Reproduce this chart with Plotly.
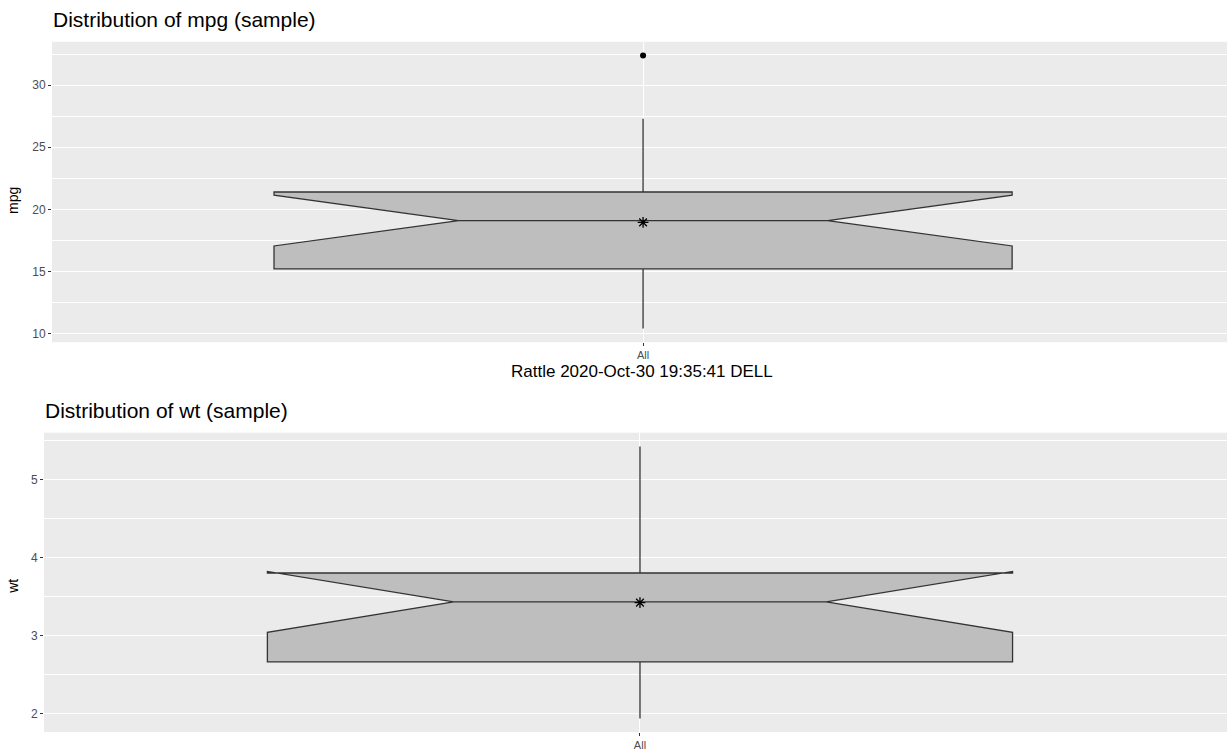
import plotly.graph_objects as go

# ---- data ----
category = ["All"]

mpg_q1 = [15.2]
mpg_median = [19.1]
mpg_q3 = [21.4]
mpg_lower = [10.4]
mpg_upper = [27.3]
mpg_notch = [2.05]
mpg_mean = [18.95]
mpg_outliers = [32.4]

wt_q1 = [2.66]
wt_median = [3.43]
wt_q3 = [3.80]
wt_lower = [1.935]
wt_upper = [5.424]
wt_notch = [0.39]
wt_mean = [3.42]

mpg_ticks = [10, 15, 20, 25, 30]
wt_ticks = [2, 3, 4, 5]

W, H = 1227, 751
BOX_FILL = "#BEBEBE"
EDGE = "#333333"
PANEL = "#EBEBEB"
FONT = "Liberation Sans, Arial, sans-serif"

fig = go.Figure()

star = dict(symbol="asterisk-open", size=9, color="black", line=dict(color="black", width=1.3))

# top panel: mpg
fig.add_trace(go.Box(
    x=category, q1=mpg_q1, median=mpg_median, q3=mpg_q3,
    lowerfence=mpg_lower, upperfence=mpg_upper, notchspan=mpg_notch,
    notched=True, notchwidth=0.25, width=0.9, whiskerwidth=0,
    fillcolor=BOX_FILL, line=dict(color=EDGE, width=1.3),
    boxpoints=False, hoverinfo="skip", showlegend=False,
    xaxis="x", yaxis="y"))
fig.add_trace(go.Scatter(
    x=category * len(mpg_outliers), y=mpg_outliers, mode="markers",
    marker=dict(color="black", size=6), showlegend=False,
    xaxis="x", yaxis="y"))
fig.add_trace(go.Scatter(
    x=category, y=mpg_mean, mode="markers", marker=star,
    showlegend=False, xaxis="x", yaxis="y"))

# bottom panel: wt
fig.add_trace(go.Box(
    x=category, q1=wt_q1, median=wt_median, q3=wt_q3,
    lowerfence=wt_lower, upperfence=wt_upper, notchspan=wt_notch,
    notched=True, notchwidth=0.25, width=0.9, whiskerwidth=0,
    fillcolor=BOX_FILL, line=dict(color=EDGE, width=1.3),
    boxpoints=False, hoverinfo="skip", showlegend=False,
    xaxis="x2", yaxis="y2"))
fig.add_trace(go.Scatter(
    x=category, y=wt_mean, mode="markers", marker=star,
    showlegend=False, xaxis="x2", yaxis="y2"))

tickfont = dict(family=FONT, size=12, color="#4D4D4D")

common_x = dict(type="category", showgrid=True, gridcolor="white", gridwidth=1.3,
                zeroline=False, showline=False, ticks="outside", ticklen=3,
                tickcolor=EDGE, tickfont=dict(family=FONT, size=11, color="#4D4D4D"),
                fixedrange=True)
common_y = dict(showgrid=True, gridcolor="white", gridwidth=1.3, zeroline=False,
                showline=False, ticks="outside", ticklen=3, tickcolor=EDGE,
                tickfont=tickfont, fixedrange=True)

fig.update_layout(
    width=W, height=H,
    margin=dict(l=0, r=0, t=0, b=0),
    paper_bgcolor="white", plot_bgcolor=PANEL,
    xaxis=dict(domain=[52 / W, 1.0], range=[-0.7207, 0.712], anchor="y", **common_x),
    yaxis=dict(domain=[1 - 344 / H, 1 - 42 / H], range=[9.3, 33.5], anchor="x",
               tickvals=mpg_ticks,
               minor=dict(showgrid=True, gridcolor="white", gridwidth=0.6, dtick=2.5, tick0=0),
               **common_y),
    xaxis2=dict(domain=[44 / W, 1.0], range=[-0.7198, 0.709], anchor="y2", **common_x),
    yaxis2=dict(domain=[1 - 736 / H, 1 - 435 / H], range=[1.76, 5.60], anchor="x2",
                tickvals=wt_ticks,
                minor=dict(showgrid=True, gridcolor="white", gridwidth=0.6, dtick=0.5, tick0=0),
                **common_y),
)

ann_font = dict(family=FONT, color="black")
fig.add_annotation(text="Distribution of mpg (sample)", x=51 / W, y=1 - 20 / H,
                   xref="paper", yref="paper", xanchor="left", yanchor="middle",
                   showarrow=False, font=dict(size=21, **ann_font))
fig.add_annotation(text="Distribution of wt (sample)", x=43 / W, y=1 - 413 / H,
                   xref="paper", yref="paper", xanchor="left", yanchor="middle",
                   showarrow=False, font=dict(size=21, **ann_font))
fig.add_annotation(text="Rattle 2020-Oct-30 19:35:41 DELL", x=642 / W, y=1 - 373 / H,
                   xref="paper", yref="paper", xanchor="center", yanchor="middle",
                   showarrow=False, font=dict(size=17, **ann_font))
fig.add_annotation(text="mpg", x=13 / W, y=1 - 202 / H, textangle=-90,
                   xref="paper", yref="paper", xanchor="center", yanchor="middle",
                   showarrow=False, font=dict(size=14, **ann_font))
fig.add_annotation(text="wt", x=13 / W, y=1 - 590 / H, textangle=-90,
                   xref="paper", yref="paper", xanchor="center", yanchor="middle",
                   showarrow=False, font=dict(size=14, **ann_font))

fig.write_html("out.html", config={"displayModeBar": False},
               post_script="document.body.style.margin='0';document.body.style.overflow='hidden';")
